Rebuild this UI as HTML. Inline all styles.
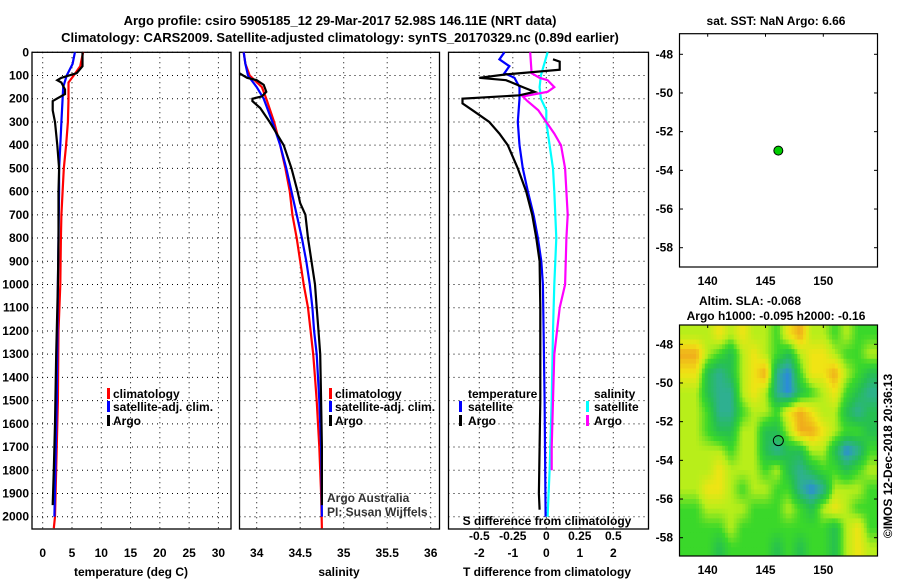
<!DOCTYPE html>
<html><head><meta charset="utf-8"><style>
html,body{margin:0;padding:0;background:#fff}
svg{display:block;font-family:"Liberation Sans",sans-serif}
.b{font-weight:bold;font-size:12px}
.t{font-weight:bold;font-size:13px}
</style></head><body>
<svg id="s" width="900" height="580" viewBox="0 0 900 580">
<defs>
<clipPath id="mapclip"><rect x="680" y="325" width="197" height="231"/></clipPath>
</defs>
<text class="t" x="340" y="25" text-anchor="middle">Argo profile: csiro 5905185_12 29-Mar-2017 52.98S 146.11E (NRT data)</text>
<text class="t" x="340" y="42" text-anchor="middle">Climatology: CARS2009. Satellite-adjusted climatology: synTS_20170329.nc (0.89d earlier)</text>
<g id="g"></g>
</svg>
<script>
// ---------- data ----------
const argoTdepth=[0,60,90,110,120,130,160,180,200,210,250,300,400,500,600,800,1000,1300,1600,1800,1950];
const argoT=[6.8,6.8,5.8,3.2,2.5,3.2,3.8,3.8,2.4,1.7,1.7,2.1,2.5,2.8,2.7,2.7,2.6,2.3,2.1,1.9,1.7];
const climDepth=[0,60,100,130,200,300,400,500,600,700,800,1000,1200,1500,2000,2050];
const climT=[6.9,6.4,5.3,4.4,4.4,4.3,4.0,3.6,3.4,3.2,3.1,3.0,2.7,2.6,2.1,1.9];
const satTdepth=[0,50,100,150,200,300,400,500,600,800,1000,1500,2000];
const satT=[5.5,5.1,4.1,3.5,3.4,3.2,3.0,2.8,2.8,2.7,2.6,2.4,2.0];
const climSdepth=[0,50,100,150,200,300,400,500,600,700,800,900,1000,1100,1200,1300,1400,1500,1700,1900,2050];
const climS=[33.85,33.87,33.92,34.06,34.11,34.2,34.27,34.33,34.38,34.41,34.46,34.5,34.54,34.59,34.62,34.65,34.67,34.69,34.72,34.74,34.75];
const satSdepth=[0,50,100,150,200,300,400,500,600,700,800,900,1000,1100,1200,1300,1500,1700,2000];
const satS=[33.85,33.87,33.9,34.0,34.08,34.18,34.27,34.34,34.4,34.46,34.52,34.57,34.61,34.64,34.66,34.69,34.72,34.74,34.75];
const argoSdepth=[90,110,120,140,170,190,200,210,240,300,350,400,500,600,650,700,800,900,1000,1100,1200,1300,1500,1700,1950];
const argoS=[33.8,33.89,34.0,34.08,34.11,34.06,33.95,33.95,34.04,34.15,34.23,34.31,34.4,34.47,34.5,34.56,34.59,34.63,34.67,34.69,34.71,34.73,34.74,34.75,34.75];
const dTargoDepth=[30,40,75,95,110,120,150,170,185,200,220,250,300,350,400,500,600,700,800,900,1100,1500,1900,1970];
const dTargo=[0.2,0.4,0.4,-1.2,-2.0,-1.2,-0.7,-0.35,-0.8,-2.5,-2.5,-2.2,-1.7,-1.4,-1.15,-0.85,-0.6,-0.42,-0.3,-0.2,-0.18,-0.18,-0.22,-0.2];
const dTsatDepth=[0,30,60,90,110,150,200,300,400,500,600,700,800,900,1000,1200,1500,2000];
const dTsat=[-1.25,-1.4,-1.1,-1.25,-0.95,-0.8,-0.8,-0.85,-0.8,-0.7,-0.55,-0.38,-0.25,-0.15,-0.1,-0.08,-0.05,-0.02];
const dSsatDepth=[0,100,150,200,250,300,400,500,600,800,1000,1200,1500,1800,2000];
const dSsat=[0.01,-0.04,-0.05,-0.04,0,0,0.025,0.05,0.06,0.075,0.06,0.05,0.04,0.025,0.01];
const dSargoDepth=[0,90,110,120,150,170,190,210,250,300,350,400,500,700,800,1000,1100,1300,1500,1700,1800];
const dSargo=[-0.12,-0.11,-0.05,0.01,0.06,0.01,-0.175,-0.14,-0.06,0,0.06,0.11,0.14,0.16,0.15,0.14,0.1,0.06,0.05,0.04,0.04];
const depthTicks=[0,100,200,300,400,500,600,700,800,900,1000,1100,1200,1300,1400,1500,1600,1700,1800,1900,2000];
const tempTicks=[0,5,10,15,20,25,30];
const salTicks=[34,34.5,35,35.5,36];
const salTickLabels=["34","34.5","35","35.5","36"];
const dTTicks=[-2,-1,0,1,2];
const dSTicks=[-0.5,-0.25,0,0.25,0.5];
const dSTickLabels=["-0.5","-0.25","0","0.25","0.5"];
const lonTicks=[140,145,150];
const latTicks=[-48,-50,-52,-54,-56,-58];
const argoLon=146.11, argoLat=-52.98;
const slaLon0=138.5, slaLat0=-47;
const sla=[
[1,1,2,1,2,1,1,0,2,3,1,1,0,1,0,0],
[3,1,0,-1,1,2,1,0,-1,1,2,2,1,0,0,1],
[2,-1,-2,-1,1,2,3,-2,-3,0,2,2,3,1,0,-1],
[1,-1,-2,-2,1,2,1,-2,-3,-1,0,1,2,0,-1,-2],
[1,0,-2,-2,0,1,1,0,2,3,2,1,1,-1,-2,-1],
[1,0,-1,-1,1,1,-1,-1,1,3,3,2,1,0,0,-1],
[1,1,1,0,1,1,-1,-2,-1,-1,1,1,-1,-3,-2,0],
[1,1,2,1,1,1,0,1,-1,-2,-1,0,0,-1,0,1],
[1,2,2,1,0,1,1,0,0,-2,-3,-2,1,1,1,0],
[0,1,1,1,1,0,0,0,1,0,-1,1,2,1,0,0],
[0,0,0,1,0,0,0,0,0,0,0,0,-1,1,2,0],
[0,0,-1,0,0,0,0,-1,0,-1,0,0,-1,1,2,1]];
// ---------- scales ----------
const PT=52.3,PB=529;
const yD=d=>52.3+d*0.2322;
const xT=t=>42.7+t*5.857;
const xS=s=>256.7+(s-34)*87;
const xDT=t=>546.3+t*33.5;
const xDS=s=>xDT(s*4);
const lonX=l=>707.7+(l-140)*11.56;
const lat1=a=>54.3+(-48-a)*19.34;
const lat2=a=>344.3+(-48-a)*19.34;
const NS="http://www.w3.org/2000/svg";
const G=document.getElementById('g');
function el(tag,attrs,txt){const e=document.createElementNS(NS,tag);for(const k in attrs)e.setAttribute(k,attrs[k]);if(txt!==undefined)e.textContent=txt;G.appendChild(e);return e;}
function line(xs,ds,fx,color,name,w){
  const p=xs.map((v,i)=>fx(v).toFixed(1)+","+yD(ds[i]).toFixed(1)).join(" ");
  const e=el('polyline',{points:p,fill:'none',stroke:color,'stroke-width':w||2.2});
  
  
}
function panel(x0,x1,name,vgrid){
  for(const d of depthTicks){const e=el('line',{x1:x0,x2:x1,y1:yD(d),y2:yD(d),stroke:'#000','stroke-width':1,'stroke-dasharray':'1,4'});
    }
  for(const x of vgrid){const e=el('line',{x1:x,x2:x,y1:PT,y2:PB,stroke:'#000','stroke-width':1,'stroke-dasharray':'1,4'});
    }
  const r=el('rect',{x:x0,y:PT,width:x1-x0,height:PB-PT,fill:'none',stroke:'#000','stroke-width':1.3});
  
}
function txt(x,y,s,cls,anchor,name,extra){
  const e=el('text',Object.assign({x:x,y:y,class:cls||'b','text-anchor':anchor||'start'},extra||{}),s);
  return e;
}
function mark(x,y,c){const e=el('rect',{x:x,y:y-10,width:3,height:11,fill:c});
  }
const TY=557;
// panel 1
panel(32,231,'temperature-panel',tempTicks.map(xT));
for(const d of depthTicks)txt(29,yD(d)+4,String(d),'b','end','depth-tick-label');
for(const t of tempTicks)txt(xT(t),TY,String(t),'b','middle','temp-tick-label');
txt(131,576,'temperature (deg C)','b','middle','x-axis-title-temperature');
line(climT,climDepth,xT,'#f00','climatology-temp-line');
line(satT,satTdepth,xT,'#00f','satellite-temp-line');
line(argoT,argoTdepth,xT,'#000','argo-temp-line');
mark(107,398,'#f00');txt(113,398,'climatology','b','start','legend-climatology');
mark(107,411,'#00f');txt(113,411,'satellite-adj. clim.','b','start','legend-satellite');
mark(107,425,'#000');txt(113,425,'Argo','b','start','legend-argo');
// panel 2
panel(239.5,439.5,'salinity-panel',salTicks.map(xS));
salTicks.forEach((s,i)=>txt(xS(s),TY,salTickLabels[i],'b','middle','salinity-tick-label'));
txt(339,576,'salinity','b','middle','x-axis-title-salinity');
line(climS,climSdepth,xS,'#f00','climatology-salinity-line');
line(satS,satSdepth,xS,'#00f','satellite-salinity-line');
line(argoS,argoSdepth,xS,'#000','argo-salinity-line');
mark(329,398,'#f00');txt(335,398,'climatology','b','start','legend-climatology-s');
mark(329,411,'#00f');txt(335,411,'satellite-adj. clim.','b','start','legend-satellite-s');
mark(329,425,'#000');txt(335,425,'Argo','b','start','legend-argo-s');
txt(327,502,'Argo Australia',null,'start','credit-argo-australia',{style:'font-size:12px;fill:#333'});
txt(327,516,'PI: Susan Wijffels',null,'start','credit-pi',{style:'font-size:12px;fill:#333'});
// panel 3
panel(448.5,648.5,'difference-panel',dTTicks.map(xDT));
for(const t of dTTicks)txt(xDT(t),TY,String(t),'b','middle','t-diff-tick-label');
txt(547,576,'T difference from climatology','b','middle','x-axis-title-t-diff');
dSTicks.forEach((s,i)=>txt(xDS(s),540,dSTickLabels[i],'b','middle','s-diff-tick-label'));
txt(547,525,'S difference from climatology','b','middle','s-diff-axis-title');
line(dSsat,dSsatDepth,xDS,'#0ff','satellite-s-diff-line');
line(dSargo,dSargoDepth,xDS,'#f0f','argo-s-diff-line');
line(dTsat,dTsatDepth,xDT,'#00f','satellite-t-diff-line');
line(dTargo,dTargoDepth,xDT,'#000','argo-t-diff-line');
txt(468,398,'temperature','b','start','legend-temperature-header');
mark(459,411,'#00f');txt(468,411,'satellite','b','start','legend-t-satellite');
mark(459,425,'#000');txt(468,425,'Argo','b','start','legend-t-argo');
txt(594,398,'salinity','b','start','legend-salinity-header');
mark(586,411,'#0ff');txt(594,411,'satellite','b','start','legend-s-satellite');
mark(586,425,'#f0f');txt(594,425,'Argo','b','start','legend-s-argo');
// map 1
txt(776,25,'sat. SST: NaN Argo: 6.66','b','middle','sst-map-title');
function mapAxes(top,bot,latf,name){
  const r=el('rect',{x:679.5,y:top,width:198,height:bot-top,fill:'none',stroke:'#000','stroke-width':1.2});
  
  for(const l of lonTicks){el('line',{x1:lonX(l),x2:lonX(l),y1:top,y2:top+3,stroke:'#000'});
    txt(lonX(l),bot+18,String(l),'b','middle','lon-tick-label');}
  for(const a of latTicks){el('line',{x1:874,x2:878,y1:latf(a),y2:latf(a),stroke:'#000'});
    el('line',{x1:679,x2:683,y1:latf(a),y2:latf(a),stroke:'#000'});
    txt(673,latf(a)+4,String(a),'b','end','lat-tick-label');}
}
mapAxes(33.7,267,lat1,'sst-map');
{const c=el('circle',{cx:lonX(argoLon),cy:lat1(argoLat),r:4.5,fill:'#0c0',stroke:'#000','stroke-width':1});
 }
// map 2
txt(750,305,'Altim. SLA: -0.068','b','middle','sla-map-title');
txt(776,320,'Argo h1000: -0.095 h2000: -0.16','b','middle','sla-map-subtitle');
const stops=[[-3,[42,136,224]],[-2,[46,176,144]],[-1,[38,192,80]],[0,[58,216,42]],[1,[184,238,26]],[2,[240,228,20]],[3,[240,170,28]]];
function col(v){v=Math.max(-3,Math.min(3,v));for(let i=0;i<stops.length-1;i++){const a=stops[i],b=stops[i+1];
  if(v<=b[0]){const f=(v-a[0])/(b[0]-a[0]);return 'rgb('+a[1].map((c,k)=>Math.round(c+(b[1][k]-c)*f)).join(',')+')';}}
  return 'rgb(240,170,28)';}
const hg=el('g',{'clip-path':'url(#mapclip)'});

const nC=sla[0].length,nR=sla.length,SUB=4;
function val(fr,fc){fr=Math.max(0,Math.min(nR-1,fr));fc=Math.max(0,Math.min(nC-1,fc));
  const r0=Math.floor(fr),c0=Math.floor(fc),r1=Math.min(nR-1,r0+1),c1=Math.min(nC-1,c0+1),dr=fr-r0,dc=fc-c0;
  return sla[r0][c0]*(1-dr)*(1-dc)+sla[r0][c1]*(1-dr)*dc+sla[r1][c0]*dr*(1-dc)+sla[r1][c1]*dr*dc;}
for(let i=-SUB;i<(nR+1)*SUB;i++)for(let j=-SUB;j<(nC+1)*SUB;j++){
  const fr=(i+0.5)/SUB-0.5,fc=(j+0.5)/SUB-0.5;
  const r=document.createElementNS(NS,'rect');
  const x=lonX(slaLon0+j/SUB),y=lat2(slaLat0-i/SUB);
  r.setAttribute('x',x.toFixed(1));r.setAttribute('y',y.toFixed(1));
  r.setAttribute('width',(11.56/SUB+0.6).toFixed(2));r.setAttribute('height',(19.34/SUB+0.6).toFixed(2));
  r.setAttribute('fill',col(val(fr,fc)));
  
  
  hg.appendChild(r);
}
mapAxes(325,556,lat2,'sla-map');
{const c=el('circle',{cx:lonX(argoLon),cy:lat2(argoLat),r:5,fill:'none',stroke:'#000','stroke-width':1});
 }
txt(0,0,'©IMOS 12-Dec-2018 20:36:13',null,'middle','imos-timestamp',{transform:'translate(892,456) rotate(-90)',style:'font-size:12px'});
</script>
</body></html>
